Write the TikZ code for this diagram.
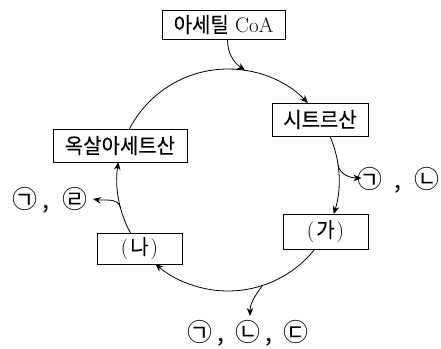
\documentclass[tikz,border=0pt]{standalone}
\usepackage{fontspec}
\newfontfamily\kr[FakeStretch=0.95,FakeBold=0.12]{Noto Sans CJK KR}
\newfontfamily\krc{Noto Sans CJK KR}
\usetikzlibrary{arrows.meta,calc}
\begin{document}
\begin{tikzpicture}[x=1pt,y=1pt,
  box/.style={draw, line width=0.8pt, inner sep=0pt, font=\fontsize{21}{24}\selectfont},
  arr/.style={line width=0.8pt, -{Stealth[length=8pt,width=6.5pt]}},
  lab/.style={font=\fontsize{25}{28}\selectfont\krc, inner sep=0pt}]
\useasboundingbox (0,0) rectangle (441,348);
\coordinate (c) at (228,168);
\def\R{111}
% boxes
\node[box, minimum width=123pt, minimum height=29pt] (acoa) at (223.5,323.5) {{\kr 아세틸} CoA};
\node[box, minimum width=96pt, minimum height=33pt] (cit) at (320,228.5) {\kr 시트르산};
\node[box, minimum width=134pt, minimum height=33pt] (oxa) at (120,202.5) {\kr 옥살아세트산};
\node[box, minimum width=85pt, minimum height=31pt] (na) at (139.5,99.5) {(\kern2pt{\kr 나}\kern2pt)};
\node[box, minimum width=85pt, minimum height=35pt] (ga) at (325.5,116.5) {(\kern2pt{\kr 가}\kern2pt)};
% labels
\node[lab, anchor=base west] (l1) at (357.5,159.5) {㉠\kern12pt,\kern13pt㉡};
\node[lab, anchor=base east] (l2) at (87.5,139.5) {㉠\kern5pt,\kern13pt㉣};
\node[lab, anchor=base] (l3) at (248,6.5) {㉠\kern5pt,\kern11pt㉡\kern5pt,\kern11pt㉢};
% cycle arcs
\draw[arr] ($(c)+(152.65:\R)$) arc[start angle=152.65, end angle=43.9, radius=\R];
\draw[arr] ($(c)+(23.35:\R)$) arc[start angle=23.35, end angle=-17.85, radius=\R];
\draw[arr] ($(c)+(-38.45:\R)$) arc[start angle=-38.45, end angle=-130.84, radius=\R];
\draw[arr] ($(c)+(208.5:\R)$) arc[start angle=208.5, end angle=170.66, radius=\R];
% branches
\coordinate (p0) at ($(c)+(81.2:\R)$);
\coordinate (p1) at ($(c)+(8:\R)$);
\coordinate (p2) at ($(c)+(194.6:\R)$);
\coordinate (p3) at ($(c)+(-72:\R)$);
\draw[arr] ($(acoa.south)+(4,0)$) to[out=-90, in=145] (p0);
\draw[arr] (p1) to[out=-80, in=180] ($(l1.base west)+(4,10.5)$);
\draw[arr] (p2) to[out=105, in=-10] ($(l2.base east)+(5.5,9.5)$);
\draw[arr] (p3) to[out=-125, in=90] ($(l3.base)+(2,25.5)$);
\end{tikzpicture}
\end{document}
